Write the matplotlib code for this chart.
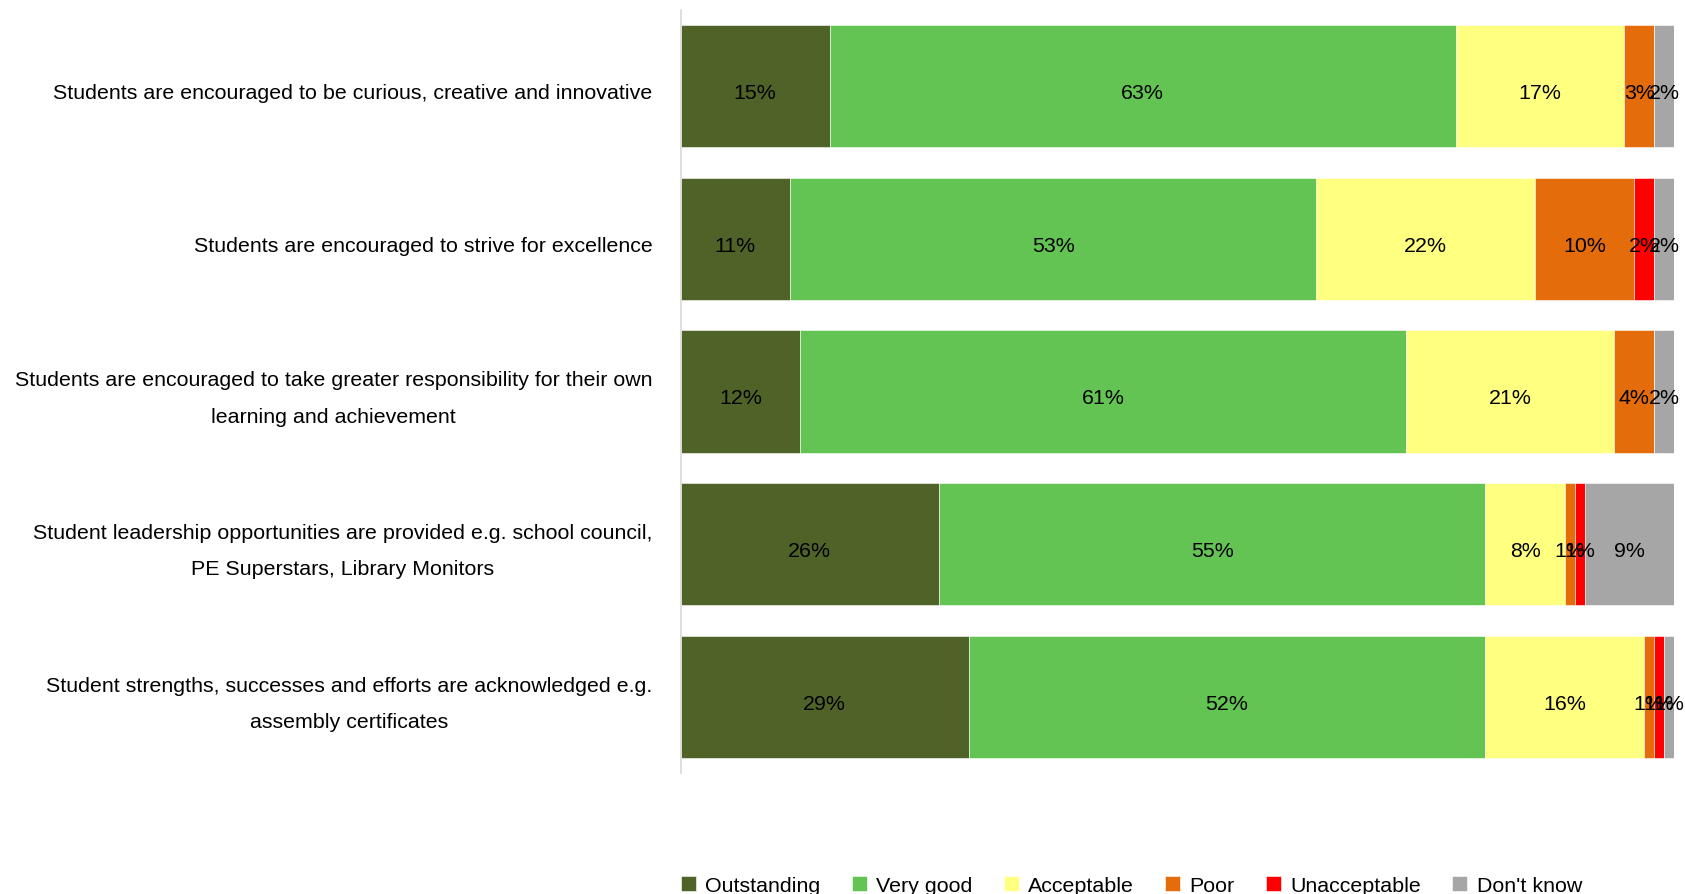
import numpy as np
import matplotlib.pyplot as plt
import matplotlib.transforms as mtransforms

plt.rcParams['font.family'] = ['Liberation Sans', 'DejaVu Sans']

# Survey statements (top to bottom)
statements = [
    "Students are encouraged to be curious, creative and innovative",
    "Students are encouraged to strive for excellence",
    "Students are encouraged to take greater responsibility for their own\nlearning and achievement",
    "Student leadership opportunities are provided e.g. school council,\nPE Superstars, Library Monitors",
    "Student strengths, successes and efforts are acknowledged e.g.\nassembly certificates",
]

categories = ["Outstanding", "Very good", "Acceptable", "Poor", "Unacceptable", "Don't know"]
colors = ["#4F6228", "#63C453", "#FFFF80", "#E46C0A", "#FF0000", "#A6A6A6"]

# percentages per category, one value per statement
outstanding = [15, 11, 12, 26, 29]
very_good = [63, 53, 61, 55, 52]
acceptable = [17, 22, 21, 8, 16]
poor = [3, 10, 4, 1, 1]
unacceptable = [0, 2, 0, 1, 1]
dont_know = [2, 2, 2, 9, 1]

series = [outstanding, very_good, acceptable, poor, unacceptable, dont_know]

fs = 15.4

fig = plt.figure(figsize=(16.85, 8.95), dpi=100)
ax = fig.add_axes([0.404, 0.135, 0.5895, 0.853])

# text sits a few pixels below the bar centre
shift = mtransforms.ScaledTranslation(0, -6.5 / 100, fig.dpi_scale_trans)

y = np.arange(len(statements))
left = np.zeros(len(statements))
for name, vals, col in zip(categories, series, colors):
    vals = np.array(vals, dtype=float)
    ax.barh(y, vals, left=left, height=0.8, color=col, edgecolor='white',
            linewidth=0.4, label=name)
    for yi, l, v in zip(y, left, vals):
        if v > 0:
            ax.text(l + v / 2, yi, f"{v:.0f}%", ha='center', va='center',
                    fontsize=fs, color='black',
                    transform=ax.transData + shift)
    left += vals

# category labels on the left
lab_tr = ax.get_yaxis_transform() + shift
for yi, s in zip(y, statements):
    ax.text(-0.0285, yi, s, ha='right', va='center', multialignment='center',
            fontsize=fs, linespacing=2.17, transform=lab_tr)

ax.set_xlim(0, 100)
ax.set_ylim(len(statements) - 0.5, -0.5)
ax.set_yticks([])
ax.set_xticks([])
for s in ['top', 'right', 'bottom']:
    ax.spines[s].set_visible(False)
ax.spines['left'].set_color('#D9D9D9')
ax.spines['left'].set_linewidth(1.2)

fig.legend(loc='center left', bbox_to_anchor=(0.404, 0.0095), ncol=6,
           frameon=False, fontsize=fs, handlelength=0.7, handleheight=0.7,
           handletextpad=0.45, columnspacing=1.45, borderpad=0,
           borderaxespad=0)

fig.savefig('out.png', dpi=100)
